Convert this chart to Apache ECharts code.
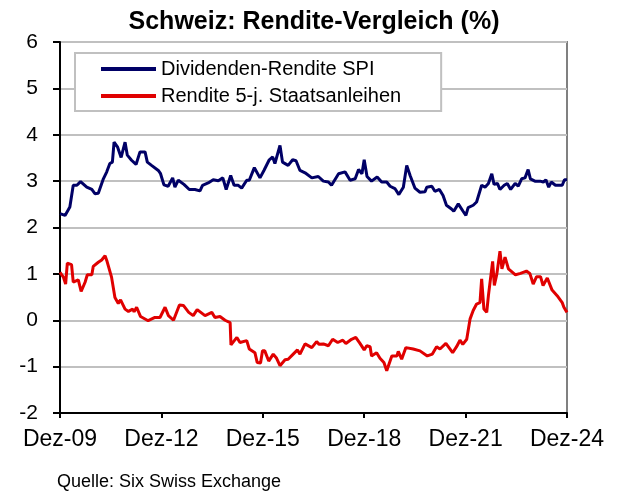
<!DOCTYPE html>
<html>
<head>
<meta charset="utf-8">
<title>Schweiz: Rendite-Vergleich</title>
<script src="https://cdn.jsdelivr.net/npm/echarts@6/dist/echarts.min.js"></script>
<style>
    html, body { margin: 0; padding: 0; background: #fff; }
    #chart { width: 628px; height: 493px; }
</style>
</head>
<body>
<div id="chart"></div>
<script>
// x = Monate seit Dez-09
var xLabels = ['Dez-09', 'Dez-12', 'Dez-15', 'Dez-18', 'Dez-21', 'Dez-24'];
var seriesNames = ['Dividenden-Rendite SPI', 'Rendite 5-j. Staatsanleihen'];

var spiData = [
    [0,2.30],[1.8,2.26],[3.5,2.44],[4.7,2.91],[6,2.91],[7.3,2.99],[9.5,2.87],[11.3,2.82],[12.4,2.73],[13.6,2.74],
    [15.4,3.05],[16.6,3.20],[17.7,3.38],[18.6,3.41],[19.2,3.84],[20.4,3.74],[21.7,3.51],[23.1,3.84],[23.9,3.56],[25.4,3.45],
    [27,3.36],[28.4,3.63],[30.2,3.63],[31,3.41],[32.5,3.34],[34.9,3.23],[35.7,3.16],[36.9,2.92],[38.4,2.89],[40,3.07],
    [40.8,2.87],[42,3.02],[44,2.93],[45.9,2.82],[47.9,2.82],[49.7,2.79],[50.6,2.91],[52.6,2.96],[54.4,3.03],[56.2,3.01],
    [57.8,3.07],[59,2.82],[60.6,3.12],[61.8,2.91],[63.3,2.91],[64.5,2.85],[66.3,3.02],[67.2,3.02],[69,3.29],[71,3.07],
    [72.4,3.23],[74.3,3.46],[75.5,3.52],[76.3,3.38],[78.1,3.77],[79,3.41],[81,3.34],[82.6,3.46],[83.8,3.44],[85.2,3.23],
    [87,3.18],[89.4,3.07],[91.7,3.10],[93.5,3.00],[95.3,2.98],[96.4,2.91],[98.9,3.16],[101.2,3.20],[103,3.02],[104.8,3.05],
    [106,3.25],[107.2,3.16],[108,3.46],[109,3.10],[110.6,3.00],[112.6,3.09],[114.2,2.98],[116,2.98],[117.2,2.89],[118.9,2.84],
    [120.3,2.71],[121.9,2.87],[123.1,3.34],[124.3,3.12],[126,2.85],[127.8,2.76],[129.6,2.77],[130.2,2.87],[132,2.89],[133.1,2.78],
    [134.7,2.82],[136,2.69],[137.2,2.48],[139,2.40],[139.8,2.35],[141.4,2.51],[143.1,2.35],[144.1,2.26],[144.9,2.43],[146.7,2.48],
    [147.9,2.55],[149.7,2.91],[150.9,2.87],[152.1,2.95],[153.3,3.16],[154.1,2.93],[155.3,2.95],[156.2,2.82],[157.7,2.91],[158.8,2.95],
    [160,2.82],[161.6,2.95],[162.7,2.89],[163.9,3.05],[165.1,3.07],[166.2,3.25],[167,3.05],[168.6,3.00],[170.4,3.00],[171.6,2.98],
    [172.5,3.03],[173.5,2.87],[174.4,2.98],[175.9,2.91],[178.3,2.91],[179.1,3.03],[180,3.03]
];

var bondData = [
    [0,1.03],[1.2,0.93],[2,0.78],[2.6,1.23],[4.1,1.20],[4.7,0.82],[6.5,0.87],[7.5,0.62],[8.9,0.82],[9.7,0.98],
    [11.3,0.98],[11.8,1.16],[13.6,1.25],[14.8,1.30],[16,1.39],[16.6,1.29],[18.3,0.93],[19.5,0.49],[20.7,0.36],[21.5,0.44],
    [23.1,0.24],[24.3,0.19],[25.8,0.24],[26.3,0.18],[27.2,0.28],[28.6,0.08],[31.3,-0.01],[33.7,0.06],[35.5,0.06],[37.3,0.28],
    [38.5,0.10],[40.3,0.00],[42.4,0.33],[43.8,0.32],[45.7,0.17],[47.3,0.10],[48.7,0.23],[51.5,0.10],[53.9,0.17],[55,0.06],
    [56.8,0.08],[58.6,0.00],[60.4,-0.05],[60.7,-0.53],[62.8,-0.37],[63.9,-0.48],[66.3,-0.44],[67.2,-0.62],[69.2,-0.70],[70,-0.91],
    [71.2,-0.92],[71.9,-0.66],[72.7,-0.66],[74.1,-0.88],[75.7,-0.73],[76.9,-0.82],[78.1,-0.98],[79.9,-0.85],[81,-0.84],[82.8,-0.73],
    [84.3,-0.64],[85.2,-0.73],[87,-0.51],[89.4,-0.59],[91.1,-0.46],[92,-0.52],[93.5,-0.51],[95.3,-0.55],[96.8,-0.41],[98.6,-0.48],
    [100.4,-0.43],[101.5,-0.50],[103.5,-0.41],[105,-0.37],[106.5,-0.50],[108,-0.64],[108.9,-0.55],[110.1,-0.57],[110.6,-0.77],[112.4,-0.70],
    [113.6,-0.82],[115,-0.91],[116,-1.09],[117.8,-0.77],[119.6,-0.77],[120.1,-0.67],[121.3,-0.84],[122.8,-0.59],[125.4,-0.62],[127.8,-0.66],
    [130.4,-0.77],[132.2,-0.73],[133.7,-0.57],[134.9,-0.62],[137,-0.50],[139.4,-0.70],[140.8,-0.57],[142,-0.43],[143,-0.52],[144.4,-0.41],
    [145.6,0.03],[146.7,0.21],[147.9,0.35],[149.1,0.38],[149.7,0.89],[150.5,0.24],[151.5,0.17],[152.1,0.53],[153.6,1.27],[154.2,0.75],
    [155.1,1.00],[156.2,1.49],[156.9,1.11],[158,1.36],[159.2,1.11],[161.7,0.98],[163.5,1.01],[165.6,1.06],[166.8,1.01],[168,0.78],
    [169.2,0.94],[170.6,0.94],[171.5,0.75],[173,0.91],[174.7,0.65],[176.5,0.53],[178.3,0.38],[178.9,0.28],[180,0.17]
];

var font = 'Liberation Sans, Arial, sans-serif';
var myChart = echarts.init(document.getElementById('chart'), null, {renderer: 'canvas'});

var option = {
    backgroundColor: '#fff',
    animation: false,
    title: {
        text: 'Schweiz: Rendite-Vergleich (%)',
        left: 'center',
        top: 5,
        textStyle: {fontFamily: font, fontSize: 25, fontWeight: 'bold', color: '#000'}
    },
    legend: {
        orient: 'vertical',
        left: 75,
        top: 53,
        padding: [5, 40, 4, 26],
        itemGap: 5,
        itemWidth: 55,
        itemHeight: 4,
        icon: 'rect',
        backgroundColor: '#fff',
        borderColor: '#c0c0c0',
        borderWidth: 2,
        borderRadius: 0,
        textStyle: {fontFamily: font, fontSize: 20, color: '#000', lineHeight: 22},
        data: seriesNames
    },
    grid: {
        left: 60, right: 61, top: 42, bottom: 80,
        show: true,
        borderColor: '#808080',
        borderWidth: 2
    },
    xAxis: {
        type: 'value',
        min: 0,
        max: 180,
        interval: 36,
        axisLine: {onZero: false, lineStyle: {color: '#000', width: 2}},
        axisTick: {show: true, inside: false, length: 5, lineStyle: {color: '#000', width: 2}},
        splitLine: {show: false},
        axisLabel: {
            margin: 15,
            fontFamily: font, fontSize: 23, color: '#000',
            formatter: function (v) { return xLabels[Math.round(v / 36)]; }
        }
    },
    yAxis: {
        type: 'value',
        min: -2,
        max: 6,
        interval: 1,
        axisLine: {show: true, lineStyle: {color: '#000', width: 2}},
        axisTick: {show: true, inside: false, length: 7, lineStyle: {color: '#000', width: 2}},
        splitLine: {show: true, lineStyle: {color: '#c0c0c0', width: 2}},
        axisLabel: {margin: 22, fontFamily: font, fontSize: 21, color: '#000'}
    },
    graphic: [{
        type: 'text',
        left: 57,
        top: 473,
        style: {text: 'Quelle: Six Swiss Exchange', font: '18px ' + font, fill: '#000'}
    }],
    series: [
        {
            name: seriesNames[0],
            type: 'line',
            data: spiData,
            symbol: 'none',
            color: '#000066',
            lineStyle: {width: 3, color: '#000066'}
        },
        {
            name: seriesNames[1],
            type: 'line',
            data: bondData,
            symbol: 'none',
            color: '#e00000',
            lineStyle: {width: 3, color: '#e00000'}
        }
    ]
};
myChart.setOption(option);
</script>
</body>
</html>
